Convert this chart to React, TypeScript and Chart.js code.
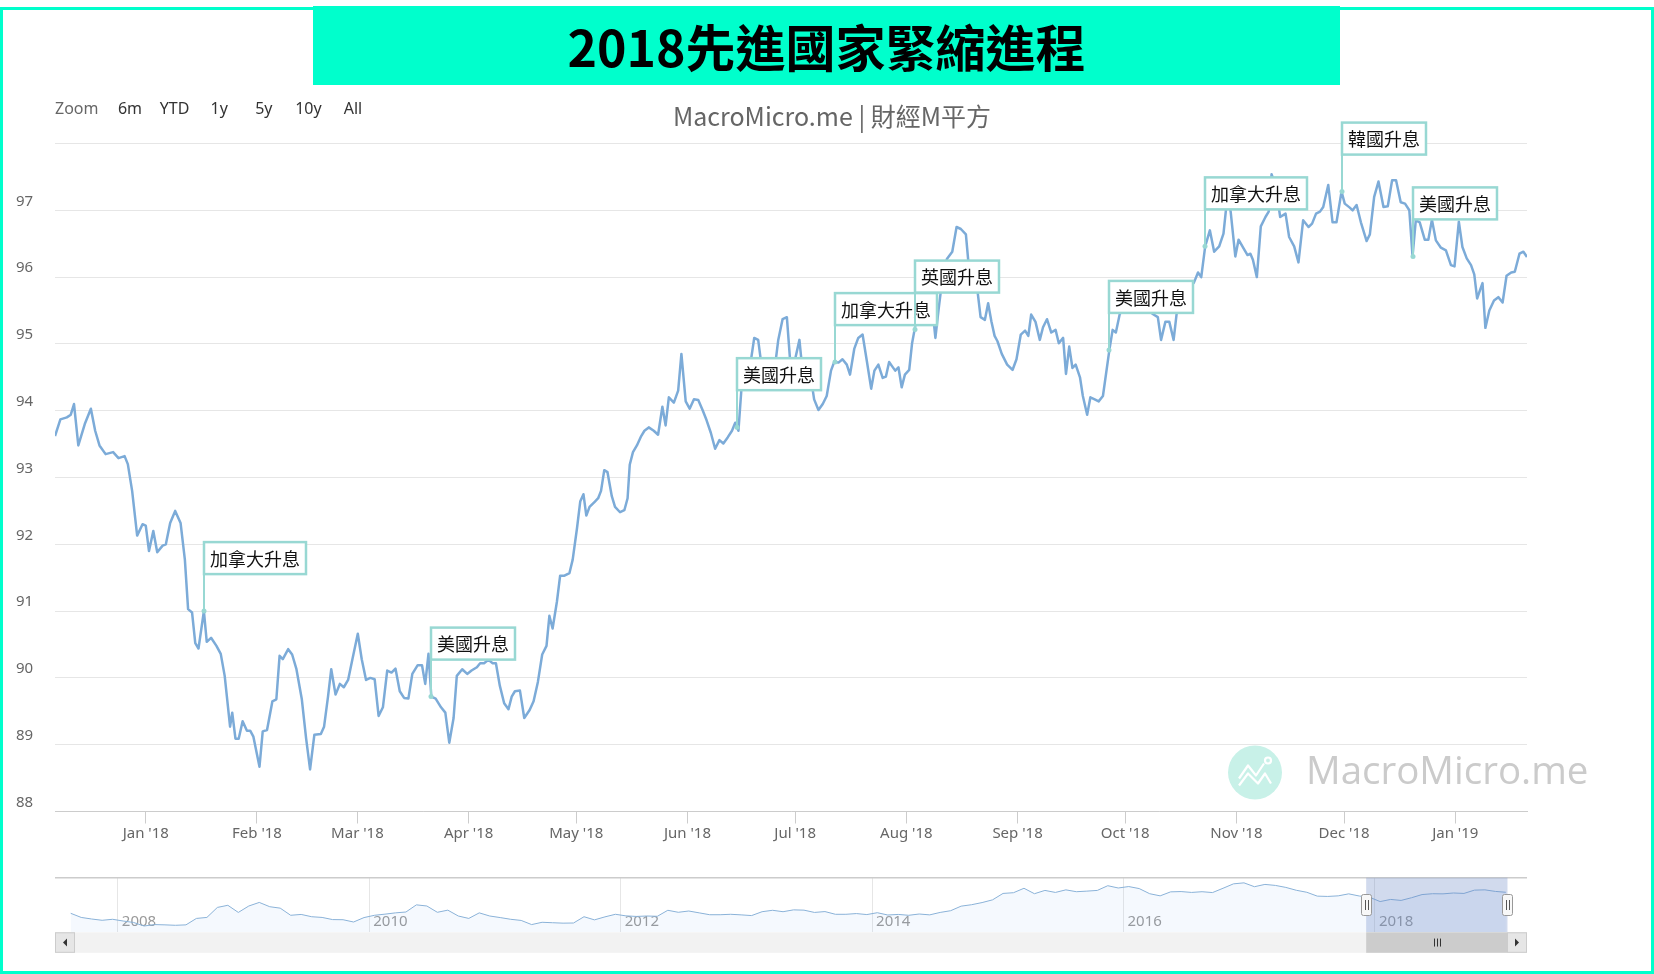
import React, { useEffect, useRef } from 'react';
import { Chart, registerables } from 'chart.js';

Chart.register(...registerables);

// ---- main series: days since 2018-01-01 and index values ----
const days = [
  -25.3, -23.8, -22.0, -20.9, -20.0, -18.8, -17.0, -15.3, -14.1, -12.9, -11.2, -9.1, -7.6, -5.9, -5.0, -3.8, -2.4, -0.9,
  0.0, 0.9, 2.1, 3.2, 4.7, 5.6, 6.8, 8.2, 9.7, 10.9, 11.8, 12.9, 13.8, 14.7, 16.2, 17.0, 18.2, 19.7, 20.9, 22.0, 23.5, 24.1,
  25.0, 25.9, 27.0, 28.2, 29.1, 30.0, 31.7, 32.6, 33.8, 35.3, 36.4, 37.3, 38.2, 39.7, 40.8, 42.0, 43.5, 44.7, 45.8, 47.0,
  48.8, 49.7, 50.8, 51.7, 52.9, 54.1, 55.2, 56.4, 57.6, 59.1, 60.2, 61.4, 62.6, 63.8, 64.9, 66.1, 67.3, 68.5, 69.6, 70.8,
  72.0, 73.2, 74.3, 75.8, 77.0, 77.9, 78.8, 79.6, 80.8, 82.3, 83.5, 84.6, 85.8, 86.7, 88.2, 89.6, 90.8, 92.3, 93.2, 94.3,
  95.5, 96.7, 97.6, 98.7, 99.9, 101.1, 102.0, 102.9, 104.3, 105.5, 107.0, 108.1, 109.3, 110.5, 111.7, 112.5, 113.4, 114.6,
  115.5, 116.7, 118.1, 119.0, 120.2, 121.1, 122.0, 122.8, 123.7, 125.2, 126.1, 126.9, 127.8, 128.7, 129.9, 130.8, 132.2,
  133.4, 134.3, 134.9, 135.8, 136.9, 138.1, 139.0, 140.2, 141.6, 142.8, 144.0, 144.9, 145.8, 147.2, 148.4, 149.3, 150.5,
  151.6, 152.8, 154.0, 155.2, 156.3, 157.5, 158.7, 159.9, 161.0, 162.2, 163.4, 164.3, 165.2, 166.0, 167.2, 168.4, 169.6,
  170.7, 171.6, 172.8, 174.0, 175.1, 176.3, 177.5, 178.7, 179.8, 181.0, 182.2, 183.1, 184.0, 185.1, 186.3, 187.5, 188.7,
  189.8, 191.0, 191.9, 193.1, 194.2, 195.4, 196.3, 197.5, 198.6, 199.8, 201.0, 202.2, 203.1, 204.2, 205.4, 206.3, 207.2,
  208.1, 208.9, 209.8, 210.7, 211.6, 212.8, 213.6, 214.8, 215.7, 216.6, 218.0, 219.2, 220.1, 221.0, 222.2, 223.3, 224.8,
  226.0, 227.2, 228.6, 229.5, 230.4, 231.6, 232.7, 233.9, 234.8, 235.7, 236.6, 237.4, 238.6, 240.1, 241.6, 242.7, 243.9,
  245.1, 246.0, 246.8, 248.0, 249.2, 250.1, 251.2, 252.4, 253.6, 254.5, 255.7, 256.5, 257.4, 258.3, 259.2, 260.4, 261.2,
  262.4, 263.3, 264.5, 265.6, 266.8, 268.6, 269.5, 270.4, 271.5, 272.7, 273.9, 275.1, 276.2, 277.4, 278.6, 279.8, 280.9,
  282.1, 283.0, 284.2, 285.3, 286.5, 287.4, 288.6, 289.7, 290.9, 292.1, 293.3, 294.2, 295.3, 296.6, 297.8, 299.2, 300.4,
  301.5, 302.4, 303.7, 304.6, 306.0, 307.1, 307.9, 308.6, 309.7, 310.8, 312.1, 313.0, 313.8, 315.0, 316.2, 317.7, 318.7,
  320.1, 321.3, 322.6, 324.1, 325.1, 326.2, 327.3, 328.2, 329.6, 330.8, 331.9, 333.3, 334.2, 335.6, 336.4, 337.5, 338.7,
  340.3, 341.2, 342.4, 343.6, 345.0, 346.2, 347.4, 348.5, 349.8, 351.0, 352.2, 353.1, 354.0, 355.1, 356.5, 357.5, 358.5,
  359.6, 361.0, 362.4, 363.8, 364.8, 366.0, 367.0, 368.2, 369.4, 370.3, 371.1, 372.0, 372.6, 373.4, 374.5, 375.8, 377.0,
  378.2, 379.3, 380.6, 381.6, 382.9, 384.0, 385.0,
];

const values = [
  93.62, 93.87, 93.90, 93.94, 94.10, 93.48, 93.80, 94.03, 93.70, 93.48, 93.35, 93.38, 93.29, 93.32, 93.20, 92.80, 92.13, 92.30,
  92.28, 91.90, 92.20, 91.88, 91.98, 92.00, 92.32, 92.50, 92.32, 91.77, 91.03, 90.98, 90.52, 90.44, 91.00, 90.54, 90.60, 90.48, 90.36, 90.03, 89.27, 89.48,
  89.09, 89.09, 89.35, 89.21, 89.21, 89.12, 88.67, 89.20, 89.22, 89.65, 89.68, 90.33, 90.28, 90.43, 90.35, 90.13, 89.68, 89.09, 88.63, 89.15,
  89.16, 89.27, 89.72, 90.13, 89.75, 89.91, 89.86, 89.97, 90.28, 90.66, 90.28, 89.97, 90.00, 89.98, 89.43, 89.56, 90.11, 90.08, 90.14, 89.80,
  89.70, 89.69, 90.06, 90.19, 90.19, 89.91, 90.36, 89.72, 89.69, 89.56, 89.48, 89.03, 89.40, 90.03, 90.13, 90.06, 90.11, 90.16, 90.22, 90.22,
  90.27, 90.22, 90.22, 89.88, 89.62, 89.53, 89.72, 89.80, 89.81, 89.40, 89.52, 89.65, 89.94, 90.35, 90.48, 90.93, 90.74, 91.14,
  91.53, 91.53, 91.57, 91.77, 92.24, 92.64, 92.75, 92.43, 92.56, 92.64, 92.69, 92.80, 93.11, 93.08, 92.72, 92.56, 92.48,
  92.51, 92.69, 93.19, 93.38, 93.48, 93.62, 93.70, 93.75, 93.70, 93.64, 94.06, 93.78, 94.20, 94.12, 94.30, 94.85, 94.14,
  94.03, 94.17, 94.16, 94.01, 93.86, 93.67, 93.43, 93.56, 93.51, 93.60, 93.70, 93.82, 93.70, 94.30, 94.36, 94.65, 95.09,
  95.06, 94.69, 94.66, 94.41, 94.54, 95.06, 95.37, 95.40, 94.61, 94.77, 95.06, 94.57, 94.46, 94.60, 94.17, 94.01, 94.10,
  94.22, 94.60, 94.73, 94.72, 94.77, 94.69, 94.54, 94.93, 95.09, 95.14, 94.74, 94.33, 94.60, 94.69, 94.49, 94.51, 94.73,
  94.66, 94.60, 94.65, 94.35, 94.54, 94.61, 95.01, 95.36, 95.45, 95.48, 95.44, 95.56, 95.09, 95.52, 96.04, 96.27, 96.38,
  96.75, 96.72, 96.64, 96.10, 96.00, 95.90, 95.40, 95.36, 95.61, 95.34, 95.12, 95.04, 94.85, 94.69, 94.61, 94.77, 95.14,
  95.20, 95.12, 95.44, 95.33, 95.06, 95.25, 95.37, 95.17, 95.21, 95.01, 95.09, 94.55, 94.96, 94.64, 94.69, 94.50, 94.22,
  93.94, 94.20, 94.17, 94.14, 94.22, 94.91, 95.21, 95.17, 95.45, 95.52, 95.48, 95.69, 95.56, 95.72, 95.56, 95.48, 95.44,
  95.40, 95.06, 95.33, 95.33, 95.06, 95.48, 95.56, 95.72, 95.93, 95.91, 96.07, 96.00, 96.46, 96.70, 96.38, 96.46, 96.65,
  97.22, 96.98, 96.31, 96.56, 96.43, 96.33, 96.35, 96.26, 96.00, 96.76, 96.90, 96.98, 97.54, 97.35, 96.90, 96.95, 96.60,
  96.46, 96.22, 96.85, 96.75, 96.80, 96.95, 96.98, 97.05, 97.38, 96.82, 96.82, 97.28, 97.10, 97.04, 97.00, 97.08, 96.82,
  96.54, 96.64, 97.20, 97.43, 97.05, 97.06, 97.45, 97.45, 97.12, 97.10, 97.00, 96.31, 96.85, 96.82, 96.56, 96.56, 96.86,
  96.55, 96.44, 96.40, 96.18, 96.16, 96.83, 96.45, 96.28, 96.18, 96.04, 95.68, 95.82, 95.91, 95.24, 95.50, 95.65, 95.70,
  95.62, 96.02, 96.07, 96.08, 96.35, 96.38, 96.30,
];

// ---- x axis month ticks ----
const monthTickDays = [0, 31, 59, 90, 120, 151, 181, 212, 243, 273, 304, 334, 365];
const monthTickLabels = ["Jan '18", "Feb '18", "Mar '18", "Apr '18", "May '18", "Jun '18", "Jul '18", "Aug '18", "Sep '18", "Oct '18", "Nov '18", "Dec '18", "Jan '19"];

// ---- y axis ----
const yMin = 88;
const yMax = 98;
const yStep = 1;

// ---- rate-hike flags ----
const flagDays = [16.2, 79.6, 164.8, 192.2, 214.3, 268.6, 295.3, 333.3, 353.1];
const flagLabels = ['加拿大升息', '美國升息', '美國升息', '加拿大升息', '英國升息', '美國升息', '加拿大升息', '韓國升息', '美國升息'];

// ---- navigator (monthly, from Aug 2007) ----
const navStartYear = 2007;
const navStartMonth = 8;
const navValues = [
  80.9, 78.0, 76.9, 76.0, 76.7,
  75.5, 74.5, 72.0, 73.0, 72.8, 72.5, 72.8, 77.3, 78.0, 85.0, 86.5, 81.5,
  86.0, 88.5, 85.5, 84.5, 79.5, 80.1, 78.5, 78.0, 76.5, 76.4, 74.8, 77.9,
  79.5, 80.3, 81.2, 81.8, 86.8, 86.0, 81.6, 83.1, 79.0, 77.3, 81.2, 79.0,
  77.9, 76.7, 75.9, 73.0, 74.6, 74.3, 74.0, 74.1, 78.5, 76.3, 78.4, 80.2,
  79.1, 78.7, 79.0, 78.8, 83.0, 81.6, 82.5, 81.2, 79.9, 79.9, 80.2, 79.8,
  79.3, 82.0, 83.0, 82.0, 83.3, 83.1, 81.5, 82.1, 80.2, 80.2, 80.7, 80.0,
  81.3, 79.7, 80.1, 79.5, 80.4, 79.8, 81.5, 82.7, 85.9, 86.9, 88.4, 90.3,
  94.8, 95.3, 98.4, 94.6, 96.9, 95.5, 97.3, 96.0, 96.4, 96.9, 100.2, 98.6,
  99.6, 98.2, 94.6, 93.1, 95.9, 96.1, 95.5, 96.0, 95.4, 98.4, 101.5, 102.2,
  99.5, 101.1, 100.4, 99.0, 97.0, 95.6, 92.9, 92.7, 93.1, 94.5, 93.0, 92.1,
  89.1, 90.6, 89.9, 91.8, 94.0, 94.6, 94.5, 95.1, 94.8, 97.1, 97.3, 96.2,
  95.6,
];
const navYearTicks = [2008, 2010, 2012, 2014, 2016, 2018];
const navXMin = 2007.5;
const navXMax = 2019.21;
const navYMin = 67.6;
const navYMax = 105.8;

const rangeButtons = ['6m', 'YTD', '1y', '5y', '10y', 'All'];

const TEAL_FLAG = '#98d8d3';
const LINE_COLOR = '#7cabd8';

function valueAt(d: number): number {
  for (let i = 0; i < days.length - 1; i++) {
    if (d >= days[i] && d <= days[i + 1]) {
      const t = (d - days[i]) / (days[i + 1] - days[i]);
      return values[i] + t * (values[i + 1] - values[i]);
    }
  }
  return values[values.length - 1];
}

Chart.defaults.font.family = '"Noto Sans", "Noto Sans CJK TC", sans-serif';

export default function App() {
  const mainRef = useRef<HTMLCanvasElement>(null);
  const navRef = useRef<HTMLCanvasElement>(null);

  useEffect(() => {
    if (!mainRef.current || !navRef.current) return;

    const watermark = {
      id: 'watermark',
      beforeDatasetsDraw(chart: any) {
        const { ctx, chartArea } = chart;
        const cx = chartArea.right - 272;
        const cy = chartArea.bottom - 39;
        ctx.save();
        ctx.fillStyle = '#c8f1e8';
        ctx.beginPath();
        ctx.arc(cx, cy, 27, 0, Math.PI * 2);
        ctx.fill();
        ctx.strokeStyle = '#ffffff';
        ctx.lineWidth = 2.2;
        ctx.lineJoin = 'round';
        ctx.beginPath();
        ctx.moveTo(cx - 16, cy + 6);
        ctx.lineTo(cx - 7, cy - 7);
        ctx.lineTo(cx + 1, cy + 3);
        ctx.lineTo(cx + 9, cy - 9);
        ctx.stroke();
        ctx.beginPath();
        ctx.moveTo(cx - 16, cy + 13);
        ctx.lineTo(cx - 7, cy + 1);
        ctx.lineTo(cx + 3, cy + 11);
        ctx.lineTo(cx + 10, cy + 1);
        ctx.lineTo(cx + 16, cy + 11);
        ctx.stroke();
        ctx.beginPath();
        ctx.arc(cx + 13, cy - 12, 3, 0, Math.PI * 2);
        ctx.stroke();
        ctx.font = '38.5px "Open Sans", "Noto Sans", sans-serif';
        ctx.fillStyle = '#cbcbcb';
        ctx.textAlign = 'left';
        ctx.textBaseline = 'middle';
        ctx.fillText('MacroMicro.me', cx + 51, cy + 1);
        ctx.restore();
      },
    };

    const flags = {
      id: 'flags',
      afterDatasetsDraw(chart: any) {
        const { ctx } = chart;
        const xs = chart.scales.x;
        const ys = chart.scales.y;
        ctx.save();
        ctx.font = '18px "Noto Sans CJK TC", "Noto Sans", sans-serif';
        flagDays.forEach((d, i) => {
          const v = valueAt(d);
          const px = Math.round(xs.getPixelForValue(d));
          const py = ys.getPixelForValue(v);
          const bh = 32;
          const bb = py - 37;
          const bt = bb - bh;
          const w = ctx.measureText(flagLabels[i]).width + 12;
          ctx.strokeStyle = TEAL_FLAG;
          ctx.lineWidth = 2;
          ctx.beginPath();
          ctx.moveTo(px, bb);
          ctx.lineTo(px, py);
          ctx.stroke();
          ctx.fillStyle = TEAL_FLAG;
          ctx.beginPath();
          ctx.arc(px, py, 2.5, 0, Math.PI * 2);
          ctx.fill();
          ctx.fillStyle = '#ffffff';
          ctx.fillRect(px, bt, w, bh);
          ctx.lineWidth = 2.5;
          ctx.strokeRect(px, bt, w, bh);
          ctx.fillStyle = '#111111';
          ctx.textAlign = 'left';
          ctx.textBaseline = 'middle';
          ctx.fillText(flagLabels[i], px + 6, bt + bh / 2 + 1);
        });
        ctx.restore();
      },
    };

    const main = new Chart(mainRef.current, {
      type: 'line',
      data: {
        datasets: [
          {
            data: days.map((d, i) => ({ x: d, y: values[i] })),
            borderColor: LINE_COLOR,
            borderWidth: 2.5,
            pointRadius: 0,
            tension: 0,
            fill: false,
            borderJoinStyle: 'round',
          },
        ],
      },
      options: {
        responsive: false,
        animation: false,
        events: [],
        layout: { padding: { left: 16, right: 127, top: 143.5, bottom: 8.5 } },
        plugins: { legend: { display: false }, tooltip: { enabled: false }, title: { display: false } },
        scales: {
          x: {
            type: 'linear',
            min: days[0],
            max: days[days.length - 1],
            afterBuildTicks: (s: any) => {
              s.ticks = monthTickDays.map((v) => ({ value: v }));
            },
            afterFit: (s: any) => {
              s.height = 40;
            },
            ticks: {
              autoSkip: false,
              maxRotation: 0,
              padding: 1,
              color: '#666666',
              font: { size: 15 },
              callback: (v: any) => {
                const i = monthTickDays.indexOf(Number(v));
                return i >= 0 ? monthTickLabels[i] : '';
              },
            },
            grid: { drawOnChartArea: false, drawTicks: true, tickLength: 12, color: '#cccccc' },
            border: { display: true, color: '#cccccc', width: 1 },
          },
          y: {
            min: yMin,
            max: yMax,
            afterFit: (s: any) => {
              s.width = 39;
            },
            ticks: {
              stepSize: yStep,
              crossAlign: 'far',
              labelOffset: -9,
              color: '#666666',
              font: { size: 15 },
              callback: (v: any) => (Number(v) === yMax ? '' : String(v)),
            },
            grid: { color: '#e6e6e6', drawTicks: false, lineWidth: 1 },
            border: { display: false },
          },
        },
      },
      plugins: [watermark, flags],
    } as any);

    const navDecor = {
      id: 'navDecor',
      beforeDatasetsDraw(chart: any) {
        const { ctx, chartArea } = chart;
        const xs = chart.scales.x;
        ctx.save();
        ctx.font = '15px "Noto Sans", sans-serif';
        ctx.fillStyle = '#999999';
        ctx.textAlign = 'left';
        ctx.textBaseline = 'middle';
        navYearTicks.forEach((y) => {
          ctx.fillText(String(y), xs.getPixelForValue(y) + 4, chartArea.bottom - 11);
        });
        ctx.restore();
      },
      afterDraw(chart: any) {
        const { ctx, chartArea } = chart;
        const xs = chart.scales.x;
        const { left, right, top, bottom } = chartArea;
        const x0 = xs.getPixelForValue(2018 + days[0] / 365);
        const x1 = xs.getPixelForValue(2018 + days[days.length - 1] / 365);
        ctx.save();
        ctx.strokeStyle = '#cccccc';
        ctx.lineWidth = 1.5;
        ctx.beginPath();
        ctx.moveTo(left, top);
        ctx.lineTo(right, top);
        ctx.stroke();
        ctx.fillStyle = 'rgba(102,133,194,0.3)';
        ctx.fillRect(x0, top, x1 - x0, bottom - top);
        const sy = bottom;
        const sh = 20.5;
        ctx.fillStyle = '#f2f2f2';
        ctx.fillRect(left, sy, right - left, sh);
        ctx.fillStyle = '#cccccc';
        ctx.fillRect(x0, sy, x1 - x0, sh);
        const bw = 20;
        [left, right - bw].forEach((bx, k) => {
          ctx.fillStyle = '#e6e6e6';
          ctx.fillRect(bx, sy, bw, sh);
          ctx.strokeStyle = '#cccccc';
          ctx.lineWidth = 1;
          ctx.strokeRect(bx + 0.5, sy + 0.5, bw - 1, sh - 1);
          const ax = bx + bw / 2;
          const ay = sy + sh / 2;
          ctx.fillStyle = '#333333';
          ctx.beginPath();
          if (k === 0) {
            ctx.moveTo(ax - 2, ay);
            ctx.lineTo(ax + 2, ay - 4);
            ctx.lineTo(ax + 2, ay + 4);
          } else {
            ctx.moveTo(ax + 2, ay);
            ctx.lineTo(ax - 2, ay - 4);
            ctx.lineTo(ax - 2, ay + 4);
          }
          ctx.closePath();
          ctx.fill();
        });
        const gx = (x0 + x1) / 2;
        const gy = sy + sh / 2;
        ctx.strokeStyle = '#333333';
        ctx.lineWidth = 1;
        [-3, 0, 3].forEach((o) => {
          ctx.beginPath();
          ctx.moveTo(Math.round(gx + o) + 0.5, gy - 4);
          ctx.lineTo(Math.round(gx + o) + 0.5, gy + 4);
          ctx.stroke();
        });
        const hy = (top + bottom) / 2;
        [x0, x1].forEach((hx) => {
          const rx = Math.round(hx - 5) + 0.5;
          ctx.fillStyle = '#f8f8f8';
          ctx.strokeStyle = '#999999';
          ctx.lineWidth = 1;
          ctx.beginPath();
          (ctx as any).roundRect(rx, hy - 10.5, 10, 21, 2);
          ctx.fill();
          ctx.stroke();
          ctx.strokeStyle = '#555555';
          [-1.5, 1.5].forEach((o) => {
            ctx.beginPath();
            ctx.moveTo(Math.round(hx + o) + 0.5, hy - 5);
            ctx.lineTo(Math.round(hx + o) + 0.5, hy + 5);
            ctx.stroke();
          });
        });
        ctx.restore();
      },
    };

    const nav = new Chart(navRef.current, {
      type: 'line',
      data: {
        datasets: [
          {
            data: navValues.map((v, i) => ({ x: navStartYear + (navStartMonth - 1 + i + 0.5) / 12, y: v })),
            borderColor: '#8ab2d8',
            borderWidth: 1,
            backgroundColor: 'rgba(124,181,236,0.08)',
            fill: 'start',
            pointRadius: 0,
            tension: 0,
          },
        ],
      },
      options: {
        responsive: false,
        animation: false,
        events: [],
        layout: { padding: { left: 55, right: 127, top: 7.7, bottom: 27.7 } },
        plugins: { legend: { display: false }, tooltip: { enabled: false } },
        scales: {
          x: {
            type: 'linear',
            min: navXMin,
            max: navXMax,
            afterBuildTicks: (s: any) => {
              s.ticks = navYearTicks.map((v) => ({ value: v }));
            },
            afterFit: (s: any) => {
              s.height = 0;
            },
            ticks: { display: false },
            grid: { color: '#e6e6e6', drawTicks: false },
            border: { display: false },
          },
          y: { display: false, min: navYMin, max: navYMax },
        },
      },
      plugins: [navDecor],
    } as any);

    return () => {
      main.destroy();
      nav.destroy();
    };
  }, []);

  return (
    <div
      style={{
        position: 'absolute',
        left: 0,
        top: 0,
        width: 1654,
        height: 974,
        background: '#ffffff',
        overflow: 'hidden',
        fontFamily: '"Noto Sans", "Noto Sans CJK TC", sans-serif',
      }}
    >
      <canvas ref={mainRef} width={1654} height={860} style={{ position: 'absolute', left: 0, top: 0, width: 1654, height: 860 }} />
      <canvas ref={navRef} width={1654} height={90} style={{ position: 'absolute', left: 0, top: 870, width: 1654, height: 90 }} />
      <div
        style={{
          position: 'absolute',
          left: 313,
          top: 6,
          width: 1027,
          height: 79,
          background: '#00ffcc',
          color: '#000',
          fontFamily: '"Noto Sans CJK TC", sans-serif',
          fontWeight: 700,
          fontSize: 50,
          lineHeight: '78px',
          textAlign: 'center',
        }}
      >
        2018先進國家緊縮進程
      </div>
      <div
        style={{
          position: 'absolute',
          left: 0,
          top: 99,
          width: 1664,
          textAlign: 'center',
          fontFamily: '"Noto Sans CJK TC", sans-serif',
          fontSize: 25,
          lineHeight: '32px',
          color: '#666666',
        }}
      >
        MacroMicro.me | 財經M平方
      </div>
      <div
        style={{
          position: 'absolute',
          left: 55,
          top: 97,
          height: 22,
          display: 'flex',
          alignItems: 'center',
          fontSize: 16,
          lineHeight: '22px',
        }}
      >
        <span style={{ color: '#666666', width: 55 }}>Zoom</span>
        {rangeButtons.map((b) => (
          <span key={b} style={{ color: '#333333', width: 40, marginRight: 4.6, textAlign: 'center' }}>
            {b}
          </span>
        ))}
      </div>
      <div
        style={{
          position: 'absolute',
          left: 0,
          top: 7,
          width: 1654,
          height: 967,
          border: '3px solid #00ffcc',
          boxSizing: 'border-box',
          pointerEvents: 'none',
        }}
      />
    </div>
  );
}
